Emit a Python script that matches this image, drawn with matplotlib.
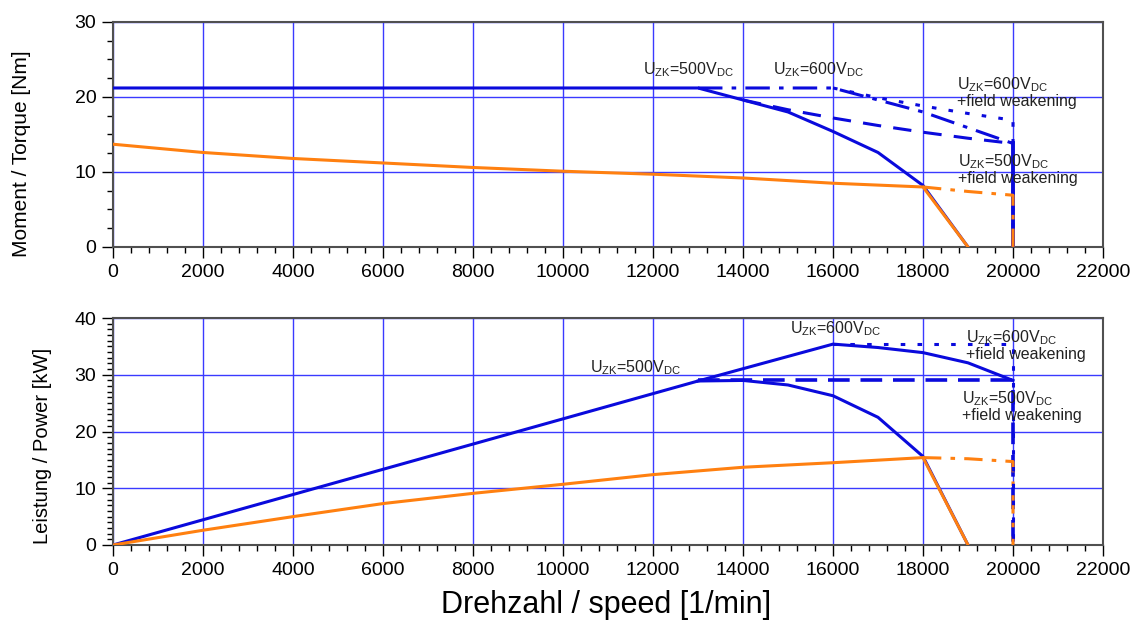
import matplotlib
matplotlib.use("Agg")
from matplotlib import pyplot as plt
from matplotlib.ticker import MultipleLocator

# Drehzahl-Stuetzpunkte [1/min] und Werte
# Moment / Torque [Nm]
n_500 = [0, 13000, 14000, 15000, 16000, 17000, 18000, 19000]
m_500 = [21.2, 21.2, 19.6, 18.0, 15.4, 12.6, 8.2, 0]
n_600 = [13000, 16000, 17000, 18000, 19000, 20000]
m_600 = [21.2, 21.2, 19.6, 18.0, 15.9, 13.8]
n_500fw = [14000, 15000, 16000, 17000, 18000, 19000, 20000]
m_500fw = [19.6, 18.3, 17.2, 16.2, 15.3, 14.5, 13.8]
n_600fw = [16000, 17000, 18000, 19000, 20000, 20000]
m_600fw = [21.2, 19.9, 18.8, 17.8, 16.9, 0]
n_cut = [20000, 20000]
m_cut = [13.8, 0]
n_or = [0, 2000, 4000, 6000, 8000, 10000, 12000, 14000, 16000, 18000, 19000]
m_or = [13.7, 12.6, 11.8, 11.2, 10.6, 10.1, 9.7, 9.2, 8.5, 8.0, 0]
n_orfw = [18000, 19000, 20000, 20000]
m_orfw = [8.0, 7.4, 6.9, 0]

# Leistung / Power [kW]
p_500 = [0, 28.9, 29.0, 28.2, 26.3, 22.5, 15.6, 0]
n_p600 = [13000, 16000, 17000, 18000, 19000, 20000]
p_600 = [28.9, 35.4, 34.8, 33.9, 32.1, 29.0]
n_p500fw = [13000, 20000, 20000]
p_500fw = [29.0, 29.0, 0]
n_p600fw = [16000, 20000, 20000]
p_600fw = [35.4, 35.4, 0]
p_or = [0, 2.6, 5.0, 7.3, 9.1, 10.7, 12.4, 13.7, 14.5, 15.4, 0]
n_porfw = [18000, 19000, 20000, 20000]
p_orfw = [15.4, 15.2, 14.7, 0]

BLAU = '#0a0adc'
ORANGE = '#ff8010'
GITTER = '#3a3aff'

plt.rcParams['font.family'] = ['Liberation Sans', 'DejaVu Sans']
plt.rcParams['mathtext.fontset'] = 'custom'
plt.rcParams['mathtext.rm'] = 'Liberation Sans'

fig = plt.figure(figsize=(11.43, 6.21), dpi=100)
ax1 = fig.add_axes([0.0989, 0.6023, 0.8661, 0.3623])
ax2 = fig.add_axes([0.0989, 0.1224, 0.8661, 0.3655])

lw = 2.2

# oberes Diagramm: Moment
ax1.plot(n_500, m_500, color=BLAU, lw=lw, zorder=3)
ax1.plot(n_600, m_600, color=BLAU, lw=lw, dashes=(8, 3, 1.5, 3), zorder=3)
ax1.plot(n_500fw, m_500fw, color=BLAU, lw=lw, dashes=(6, 4), zorder=3)
ax1.plot(n_600fw, m_600fw, color=BLAU, lw=lw, dashes=(1.5, 4), zorder=3)
ax1.plot(n_cut, m_cut, color=BLAU, lw=lw + 0.6, zorder=3)
ax1.plot(n_or, m_or, color=ORANGE, lw=lw, zorder=4)
ax1.plot(n_orfw, m_orfw, color=ORANGE, lw=lw, dashes=(6, 3, 1.5, 3), zorder=4)

# unteres Diagramm: Leistung
ax2.plot(n_500, p_500, color=BLAU, lw=lw, zorder=3)
ax2.plot(n_p600, p_600, color=BLAU, lw=lw, zorder=3)
ax2.plot(n_p500fw, p_500fw, color=BLAU, lw=lw + 0.4, dashes=(6, 3), zorder=3)
ax2.plot(n_or, p_or, color=ORANGE, lw=lw, zorder=4)
ax2.plot(n_porfw, p_orfw, color=ORANGE, lw=lw, dashes=(6, 3, 1.5, 3), zorder=4)
ax2.plot(n_p600fw, p_600fw, color=BLAU, lw=lw, dashes=(1.5, 4), zorder=5)

for ax in (ax1, ax2):
    ax.set_xlim(0, 22000)
    ax.xaxis.set_major_locator(MultipleLocator(2000))
    ax.xaxis.set_minor_locator(MultipleLocator(400))
    ax.grid(True, which='major', color=GITTER, lw=1.0)
    ax.set_axisbelow(True)
    ax.tick_params(which='major', direction='out', length=8, width=1.0,
                   labelsize=14, pad=4, colors='black')
    ax.tick_params(which='minor', direction='out', length=4, width=1.0)
    for s in ax.spines.values():
        s.set_color('#505050')
        s.set_linewidth(1.5)

ax1.set_ylim(0, 30)
ax1.yaxis.set_major_locator(MultipleLocator(10))
ax1.yaxis.set_minor_locator(MultipleLocator(2.5))
ax2.set_ylim(0, 40)
ax2.yaxis.set_major_locator(MultipleLocator(10))
ax2.yaxis.set_minor_locator(MultipleLocator(1))

# Achsbeschriftungen frei positioniert
fig.text(22 / 1143, 0.752, 'Moment / Torque [Nm]', fontsize=15,
         rotation=90, ha='center', va='center')
fig.text(43 / 1143, 0.282, 'Leistung / Power [kW]', fontsize=14.5,
         rotation=90, ha='center', va='center')
fig.text(606 / 1143, 1 - 605 / 621, 'Drehzahl / speed [1/min]', fontsize=22,
         ha='center', va='center')

u500 = r'U$_{\rm ZK}$=500V$_{\rm DC}$'
u600 = r'U$_{\rm ZK}$=600V$_{\rm DC}$'
fw = '+field weakening'
tk = dict(fontsize=11.5, color='#222222', va='center', ha='left', zorder=6)

ax1.text(11780, 23.6, u500, **tk)
ax1.text(14670, 23.6, u600, **tk)
ax1.text(18760, 20.7, u600 + '\n' + fw, linespacing=1.0, **tk)
ax1.text(18780, 10.4, u500 + '\n' + fw, linespacing=1.0, **tk)

ax2.text(15040, 38.2, u600, **tk)
ax2.text(18960, 35.2, u600 + '\n' + fw, linespacing=1.0, **tk)
ax2.text(10600, 31.2, u500, **tk)
ax2.text(18870, 24.5, u500 + '\n' + fw, linespacing=1.0, **tk)

fig.savefig('out.png', dpi=100)
